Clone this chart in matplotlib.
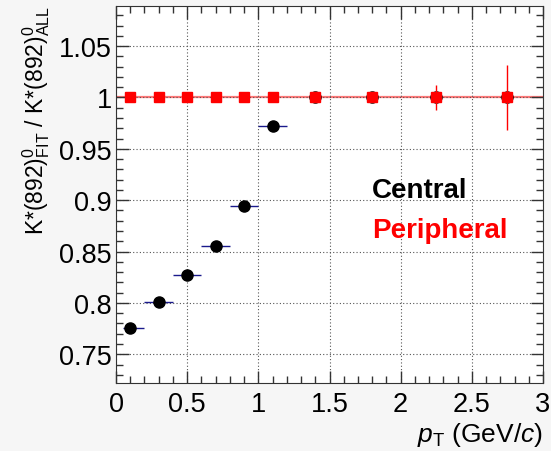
import matplotlib.pyplot as plt
from matplotlib.ticker import MultipleLocator
import numpy as np

plt.rcParams['font.family'] = ['Liberation Sans', 'DejaVu Sans']
plt.rcParams['mathtext.fontset'] = 'custom'
plt.rcParams['mathtext.rm'] = 'Liberation Sans'
plt.rcParams['mathtext.it'] = 'Liberation Sans:italic'
plt.rcParams['mathtext.bf'] = 'Liberation Sans:bold'

# pT bin centres and half widths
pt = [0.1, 0.3, 0.5, 0.7, 0.9, 1.1, 1.4, 1.8, 2.25, 2.75]
pt_lo = [0.05, 0.1, 0.1, 0.1, 0.1, 0.1, 0.1, 0.2, 0.25, 0.25]
pt_hi = [0.1, 0.1, 0.1, 0.1, 0.1, 0.1, 0.1, 0.2, 0.25, 0.25]

# ratio fit / all
central = [0.776, 0.801, 0.827, 0.855, 0.894, 0.972, 1.0, 1.0, 1.0, 1.0]
peripheral = [1.0, 1.0, 1.0, 1.0, 1.0, 1.0, 1.0, 1.0, 1.0, 1.0]
peripheral_err = [0.0, 0.0, 0.0, 0.0, 0.0, 0.0, 0.002, 0.003, 0.012, 0.032]

fig = plt.figure(figsize=(5.51, 4.52), dpi=100, facecolor='#f6f6f6')
ax = fig.add_axes([116/551, 68/452, 427/551, 377/452])
ax.set_facecolor('white')

ax.axhline(1.0, color='#ff7878', lw=1.6, zorder=1)

# central: x errors only for the first bins
n_c = 6
ax.errorbar(pt[:n_c], central[:n_c], xerr=[pt_lo[:n_c], pt_hi[:n_c]], fmt='none',
            ecolor='#1a1a8c', elinewidth=1.0, zorder=2)
ax.plot(pt, central, 'o', color='black', ms=8, zorder=3)

ax.errorbar(pt, peripheral, yerr=peripheral_err, fmt='s', color='red',
            ecolor='red', elinewidth=1.0, ms=7.5, zorder=4)

ax.set_xlim(0, 3)
ax.set_ylim(0.722, 1.089)
ax.xaxis.set_minor_locator(MultipleLocator(0.1))
ax.yaxis.set_minor_locator(MultipleLocator(0.01))
ax.set_xticks([0, 0.5, 1, 1.5, 2, 2.5, 3], ['0', '0.5', '1', '1.5', '2', '2.5', '3'])
ax.set_yticks([0.75, 0.8, 0.85, 0.9, 0.95, 1.0, 1.05],
              ['0.75', '0.8', '0.85', '0.9', '0.95', '1', '1.05'])
ax.tick_params(which='both', direction='in', top=True, right=True,
               labelsize=19.5, color='#333333')
ax.tick_params(which='major', length=9, width=1)
ax.tick_params(which='minor', length=5, width=1)
ax.tick_params(axis='x', pad=6)
ax.tick_params(axis='y', pad=3)
ax.grid(True, which='major', color='#555555', ls=(0, (1, 2)), lw=0.8)
for s in ax.spines.values():
    s.set_color('#333333')

ax.set_ylabel(r'K*(892)$^{0}_{\mathrm{FIT}}$ / K*(892)$^{0}_{\mathrm{ALL}}$', fontsize=16.5)
ax.yaxis.set_label_coords(-0.15, 0.70)
ax.set_xlabel(r'$p_{\mathrm{T}}$ (GeV/$c$)', fontsize=19, ha='right')
ax.xaxis.set_label_coords(1.0, -0.098)

ax.text(1.8, 0.91, 'Central', fontsize=20, fontweight='bold', color='black', va='center')
ax.text(1.8, 0.871, 'Peripheral', fontsize=20, fontweight='bold', color='red', va='center')

fig.savefig('out.png', dpi=100, facecolor=fig.get_facecolor())
